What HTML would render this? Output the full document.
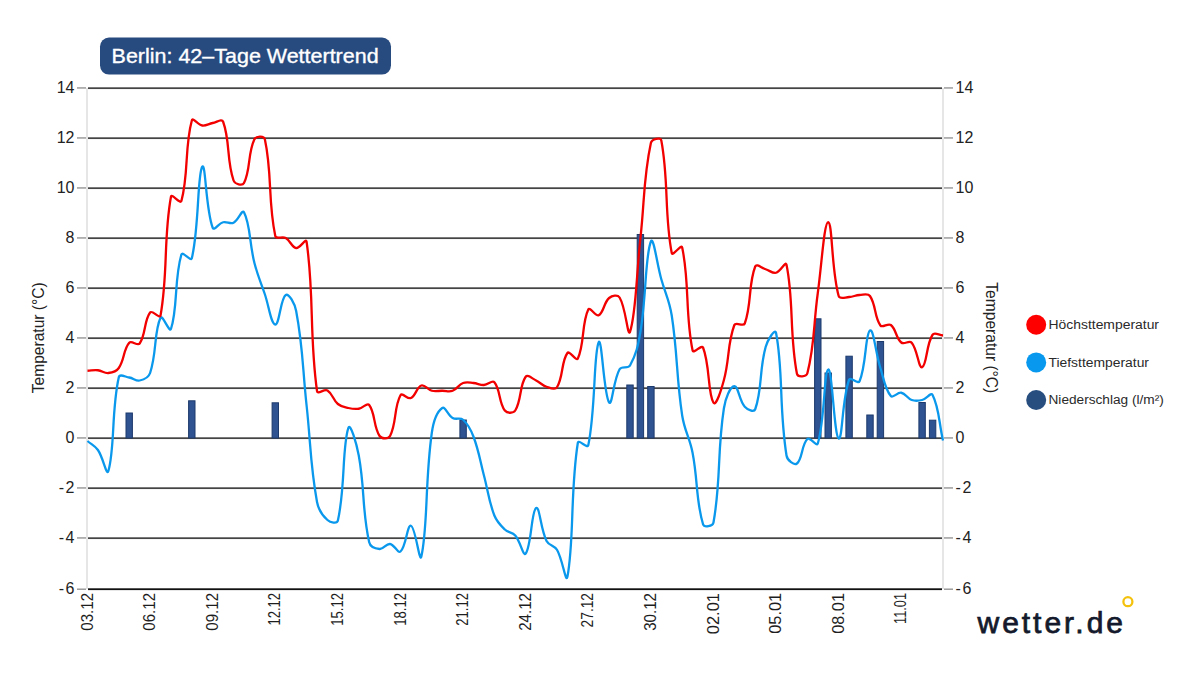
<!DOCTYPE html>
<html><head><meta charset="utf-8"><style>
html,body{margin:0;padding:0;background:#fff;width:1200px;height:675px;overflow:hidden}
svg{display:block}
text{font-family:"Liberation Sans",sans-serif}
</style></head><body>
<svg width="1200" height="675" viewBox="0 0 1200 675">
<rect width="1200" height="675" fill="#fff"/>
<rect x="86" y="88" width="2" height="501" fill="#e6e6e6"/>
<rect x="942" y="88" width="2" height="501" fill="#e6e6e6"/>
<rect x="88" y="87.30" width="854" height="1.75" fill="#444"/>
<rect x="77" y="87.25" width="9" height="1.4" fill="#959595"/>
<rect x="944" y="87.25" width="9" height="1.4" fill="#959595"/>
<rect x="88" y="137.30" width="854" height="1.75" fill="#444"/>
<rect x="77" y="137.25" width="9" height="1.4" fill="#959595"/>
<rect x="944" y="137.25" width="9" height="1.4" fill="#959595"/>
<rect x="88" y="187.30" width="854" height="1.75" fill="#444"/>
<rect x="77" y="187.25" width="9" height="1.4" fill="#959595"/>
<rect x="944" y="187.25" width="9" height="1.4" fill="#959595"/>
<rect x="88" y="237.30" width="854" height="1.75" fill="#444"/>
<rect x="77" y="237.25" width="9" height="1.4" fill="#959595"/>
<rect x="944" y="237.25" width="9" height="1.4" fill="#959595"/>
<rect x="88" y="287.30" width="854" height="1.75" fill="#444"/>
<rect x="77" y="287.25" width="9" height="1.4" fill="#959595"/>
<rect x="944" y="287.25" width="9" height="1.4" fill="#959595"/>
<rect x="88" y="337.30" width="854" height="1.75" fill="#444"/>
<rect x="77" y="337.25" width="9" height="1.4" fill="#959595"/>
<rect x="944" y="337.25" width="9" height="1.4" fill="#959595"/>
<rect x="88" y="387.30" width="854" height="1.75" fill="#444"/>
<rect x="77" y="387.25" width="9" height="1.4" fill="#959595"/>
<rect x="944" y="387.25" width="9" height="1.4" fill="#959595"/>
<rect x="88" y="437.30" width="854" height="1.75" fill="#444"/>
<rect x="77" y="437.25" width="9" height="1.4" fill="#959595"/>
<rect x="944" y="437.25" width="9" height="1.4" fill="#959595"/>
<rect x="88" y="487.30" width="854" height="1.75" fill="#444"/>
<rect x="77" y="487.25" width="9" height="1.4" fill="#959595"/>
<rect x="944" y="487.25" width="9" height="1.4" fill="#959595"/>
<rect x="88" y="537.30" width="854" height="1.75" fill="#444"/>
<rect x="77" y="537.25" width="9" height="1.4" fill="#959595"/>
<rect x="944" y="537.25" width="9" height="1.4" fill="#959595"/>
<rect x="88" y="588.3" width="854" height="1.8" fill="#111"/>
<rect x="77" y="588.5" width="9" height="1.4" fill="#959595"/>
<rect x="944" y="588.5" width="9" height="1.4" fill="#959595"/>
<text x="74.5" y="93.3" text-anchor="end" font-size="16" fill="#222">14</text>
<text x="955.5" y="93.3" font-size="16" fill="#222">14</text>
<text x="74.5" y="143.3" text-anchor="end" font-size="16" fill="#222">12</text>
<text x="955.5" y="143.3" font-size="16" fill="#222">12</text>
<text x="74.5" y="193.3" text-anchor="end" font-size="16" fill="#222">10</text>
<text x="955.5" y="193.3" font-size="16" fill="#222">10</text>
<text x="74.5" y="243.3" text-anchor="end" font-size="16" fill="#222">8</text>
<text x="955.5" y="243.3" font-size="16" fill="#222">8</text>
<text x="74.5" y="293.3" text-anchor="end" font-size="16" fill="#222">6</text>
<text x="955.5" y="293.3" font-size="16" fill="#222">6</text>
<text x="74.5" y="343.3" text-anchor="end" font-size="16" fill="#222">4</text>
<text x="955.5" y="343.3" font-size="16" fill="#222">4</text>
<text x="74.5" y="393.3" text-anchor="end" font-size="16" fill="#222">2</text>
<text x="955.5" y="393.3" font-size="16" fill="#222">2</text>
<text x="74.5" y="443.3" text-anchor="end" font-size="16" fill="#222">0</text>
<text x="955.5" y="443.3" font-size="16" fill="#222">0</text>
<text x="74.5" y="493.3" text-anchor="end" font-size="16" fill="#222">-<tspan dx="1.6">2</tspan></text>
<text x="955.5" y="493.3" font-size="16" fill="#222">-<tspan dx="1.6">2</tspan></text>
<text x="74.5" y="543.3" text-anchor="end" font-size="16" fill="#222">-<tspan dx="1.6">4</tspan></text>
<text x="955.5" y="543.3" font-size="16" fill="#222">-<tspan dx="1.6">4</tspan></text>
<text x="74.5" y="594.3" text-anchor="end" font-size="16" fill="#222">-<tspan dx="1.6">6</tspan></text>
<text x="955.5" y="594.3" font-size="16" fill="#222">-<tspan dx="1.6">6</tspan></text>
<rect x="126.0" y="413.0" width="6.4" height="25.0" fill="#2f5290" stroke="#1d3a6c" stroke-width="1"/>
<rect x="188.6" y="400.8" width="6.4" height="37.2" fill="#2f5290" stroke="#1d3a6c" stroke-width="1"/>
<rect x="272.1" y="402.8" width="6.4" height="35.2" fill="#2f5290" stroke="#1d3a6c" stroke-width="1"/>
<rect x="459.9" y="420.0" width="6.4" height="18.0" fill="#2f5290" stroke="#1d3a6c" stroke-width="1"/>
<rect x="626.8" y="385.0" width="6.4" height="53.0" fill="#2f5290" stroke="#1d3a6c" stroke-width="1"/>
<rect x="637.2" y="234.5" width="6.4" height="203.5" fill="#2f5290" stroke="#1d3a6c" stroke-width="1"/>
<rect x="647.7" y="386.5" width="6.4" height="51.5" fill="#2f5290" stroke="#1d3a6c" stroke-width="1"/>
<rect x="814.6" y="318.8" width="6.4" height="119.2" fill="#2f5290" stroke="#1d3a6c" stroke-width="1"/>
<rect x="825.0" y="373.0" width="6.4" height="65.0" fill="#2f5290" stroke="#1d3a6c" stroke-width="1"/>
<rect x="845.9" y="356.2" width="6.4" height="81.8" fill="#2f5290" stroke="#1d3a6c" stroke-width="1"/>
<rect x="866.8" y="415.0" width="6.4" height="23.0" fill="#2f5290" stroke="#1d3a6c" stroke-width="1"/>
<rect x="877.2" y="341.5" width="6.4" height="96.5" fill="#2f5290" stroke="#1d3a6c" stroke-width="1"/>
<rect x="918.9" y="402.5" width="6.4" height="35.5" fill="#2f5290" stroke="#1d3a6c" stroke-width="1"/>
<rect x="929.4" y="420.2" width="6.4" height="17.8" fill="#2f5290" stroke="#1d3a6c" stroke-width="1"/>
<path d="M87.50,441.00C91.67,444.60 94.84,445.56 97.93,450.00C103.19,457.56 106.70,476.79 108.37,471.00C115.05,447.69 111.28,410.92 118.80,377.25C119.63,373.52 125.14,376.86 129.23,377.50C133.49,378.16 135.84,381.32 139.66,380.50C144.19,379.52 148.55,377.67 150.10,373.00C156.89,352.57 153.97,331.58 160.53,317.75C162.32,313.98 169.55,333.29 170.96,329.00C177.90,307.99 174.12,279.17 181.40,254.50C182.47,250.87 190.93,262.02 191.83,258.25C199.28,226.92 197.27,174.05 202.26,166.75C205.62,161.85 205.68,209.10 212.70,227.75C214.03,231.30 218.70,223.31 223.13,222.25C227.05,221.31 230.11,224.40 233.56,222.75C238.45,220.40 242.14,208.67 243.99,212.25C250.49,224.77 249.32,242.95 254.43,263.00C257.67,275.75 260.63,281.77 264.86,294.25C268.97,306.37 271.07,324.35 275.29,324.50C279.42,324.65 280.54,298.35 285.73,295.00C288.89,292.95 294.76,303.61 296.16,311.00C303.11,347.81 302.46,367.70 306.59,405.50C310.81,444.10 310.15,464.28 317.02,502.00C318.50,510.08 321.90,515.07 327.46,520.00C330.25,522.47 337.05,524.21 337.89,520.50C345.39,487.41 341.98,447.76 348.32,428.00C350.33,421.76 356.65,443.99 358.76,455.50C365.00,489.69 361.88,509.51 369.19,542.25C370.23,546.91 375.30,548.64 379.62,549.00C383.65,549.34 386.10,543.53 390.05,544.00C394.45,544.53 397.85,553.81 400.49,551.50C406.19,546.51 407.07,524.83 410.92,525.75C415.42,526.83 419.62,564.20 421.35,556.50C427.97,527.10 424.94,481.75 431.79,433.00C433.28,422.35 436.78,411.91 442.22,408.00C445.12,405.91 447.83,415.29 452.65,418.00C456.18,419.99 460.19,417.15 463.09,419.75C468.54,424.65 470.75,429.35 473.52,436.75C479.09,451.65 479.84,459.98 483.95,475.50C488.19,491.48 488.52,500.31 494.38,515.50C496.86,521.91 499.88,524.76 504.82,529.50C508.22,532.76 512.19,531.98 515.25,535.50C520.54,541.58 523.11,556.89 525.68,553.50C531.46,545.89 531.32,510.87 536.12,508.00C539.67,505.87 540.56,529.02 546.55,541.00C548.91,545.72 554.31,545.18 556.98,549.75C562.66,559.48 565.94,584.33 567.41,576.75C574.28,541.53 570.12,491.46 577.85,442.75C578.46,438.86 587.50,449.02 588.28,445.25C595.84,408.82 593.47,353.00 598.71,342.25C601.81,335.90 603.83,395.62 609.15,402.50C612.18,406.42 613.25,380.48 619.58,369.25C621.59,365.68 628.02,369.08 630.01,365.50C636.36,354.08 638.11,345.64 640.45,331.75C646.45,296.04 645.05,256.17 650.88,241.50C653.39,235.17 657.06,264.17 661.31,279.25C665.41,293.77 669.47,300.63 671.74,315.50C677.81,355.13 676.16,375.85 682.18,415.50C684.51,430.85 689.68,437.74 692.61,453.00C698.03,481.24 695.77,500.01 703.04,524.25C704.11,527.81 712.77,526.42 713.48,522.50C721.12,480.02 717.02,453.21 723.91,408.25C725.37,398.71 730.05,386.56 734.34,386.25C738.40,385.96 739.08,400.48 744.77,406.75C747.43,409.68 753.99,412.72 755.21,409.25C762.34,388.82 759.10,370.89 765.64,347.00C767.45,340.39 775.04,327.60 776.07,333.00C783.38,371.00 778.97,408.34 786.51,455.50C787.31,460.54 794.18,465.68 796.94,463.50C802.53,459.08 801.52,444.61 807.37,439.00C809.87,436.61 816.70,447.17 817.80,443.50C825.05,419.37 823.92,370.53 828.24,369.50C832.27,368.53 834.17,436.29 838.67,438.50C842.52,440.39 842.01,399.21 849.10,379.75C850.36,376.31 858.13,384.58 859.54,381.25C866.47,364.88 865.20,333.53 869.97,330.50C873.55,328.23 875.68,353.18 880.40,368.00C884.03,379.38 884.72,388.75 890.84,396.00C893.07,398.65 897.41,392.01 901.27,392.75C905.76,393.61 907.12,398.41 911.70,400.00C915.46,401.31 918.18,400.95 922.13,400.00C926.52,398.95 930.91,391.78 932.57,395.00C939.26,407.98 938.83,422.30 943.00,440.50" fill="none" stroke="#0a98ec" stroke-width="2.3" stroke-linejoin="round"/>
<path d="M87.50,370.75C91.67,370.55 93.83,369.81 97.93,370.25C102.17,370.71 104.34,373.43 108.37,373.00C112.68,372.53 116.32,371.60 118.80,368.00C124.66,359.50 123.20,349.84 129.23,342.75C131.54,340.04 137.64,346.43 139.66,343.50C145.99,334.33 143.83,320.91 150.10,312.50C152.18,309.71 159.83,319.36 160.53,315.50C168.18,273.06 163.34,238.60 170.96,196.75C171.68,192.80 180.38,204.72 181.40,201.00C188.73,174.22 184.52,146.93 191.83,120.50C192.87,116.73 197.93,124.98 202.26,125.50C206.28,125.98 208.48,123.76 212.70,123.00C216.82,122.26 221.88,118.31 223.13,121.75C230.22,141.31 226.49,159.73 233.56,180.50C234.83,184.23 242.39,186.18 243.99,183.00C250.73,169.68 247.65,153.45 254.43,139.25C256.00,135.95 264.05,135.50 264.86,139.25C272.40,174.20 267.77,200.39 275.29,236.00C276.11,239.89 282.19,235.97 285.73,238.00C290.54,240.77 291.63,247.19 296.16,248.00C299.97,248.69 305.96,237.45 306.59,241.75C314.31,294.65 309.22,335.38 317.02,391.00C317.57,394.88 324.29,388.53 327.46,390.50C332.63,393.73 332.85,399.77 337.89,404.00C341.19,406.77 344.01,407.02 348.32,408.00C352.36,408.92 354.70,409.33 358.76,408.75C363.05,408.13 367.08,402.24 369.19,405.00C375.42,413.14 373.29,426.60 379.62,436.00C381.64,439.00 388.40,439.24 390.05,436.00C396.74,422.94 393.85,407.35 400.49,395.25C402.19,392.15 407.59,399.55 410.92,398.00C415.94,395.65 416.49,387.19 421.35,385.50C424.84,384.29 427.38,389.64 431.79,390.75C435.72,391.74 438.05,390.75 442.22,390.75C446.39,390.75 448.94,392.13 452.65,390.75C457.28,389.03 458.46,384.72 463.09,383.00C466.80,381.62 469.38,382.60 473.52,383.00C477.73,383.40 479.81,385.15 483.95,385.00C488.16,384.85 492.18,379.56 494.38,382.25C500.53,389.76 498.62,402.11 504.82,410.50C506.96,413.41 513.35,413.58 515.25,410.50C521.69,400.08 519.33,385.88 525.68,376.75C527.68,373.88 532.14,378.59 536.12,380.50C540.48,382.59 542.06,385.30 546.55,386.75C550.41,388.00 555.10,390.30 556.98,387.25C563.44,376.80 561.14,361.65 567.41,353.00C569.48,350.15 576.26,361.82 577.85,358.50C584.60,344.42 581.54,323.48 588.28,309.50C589.88,306.18 595.61,316.96 598.71,315.25C603.96,312.36 603.65,302.68 609.15,298.00C611.99,295.58 617.69,294.45 619.58,297.50C626.04,307.95 627.72,338.30 630.01,331.75C636.06,314.50 636.30,275.50 640.45,238.00C644.65,200.00 643.37,178.06 650.88,143.00C651.72,139.06 660.59,136.68 661.31,140.50C668.93,180.68 664.19,214.25 671.74,253.00C672.53,257.05 681.32,243.51 682.18,247.50C689.67,282.51 685.06,314.30 692.61,350.50C693.40,354.30 701.69,344.12 703.04,347.50C710.04,365.02 707.70,393.75 713.48,402.75C716.05,406.75 721.33,389.61 723.91,380.00C729.68,358.51 727.32,344.02 734.34,325.00C735.66,321.42 743.49,327.10 744.77,323.50C751.84,303.70 748.17,284.79 755.21,266.50C756.52,263.09 761.51,268.01 765.64,269.25C769.85,270.51 772.27,273.57 776.07,272.75C780.62,271.77 785.61,260.42 786.51,264.75C793.96,300.82 789.32,334.13 796.94,373.75C797.67,377.53 806.42,376.94 807.37,373.25C814.76,344.64 813.37,325.06 817.80,293.00C821.72,264.66 824.15,221.66 828.24,222.25C832.50,222.86 831.35,269.79 838.67,296.00C839.70,299.69 844.96,297.20 849.10,297.00C853.30,296.80 855.34,295.20 859.54,295.00C863.68,294.80 867.88,292.94 869.97,296.00C876.22,305.14 874.14,316.80 880.40,325.50C882.49,328.40 888.01,322.70 890.84,325.00C896.35,329.50 895.75,337.80 901.27,342.50C904.10,344.90 909.35,339.96 911.70,342.75C917.70,349.86 918.48,368.65 922.13,367.25C926.82,365.45 926.18,344.47 932.57,334.75C934.52,331.77 938.83,335.20 943.00,335.50" fill="none" stroke="#f20000" stroke-width="2.3" stroke-linejoin="round"/>
<text transform="translate(92.6,593.0) rotate(-90)" text-anchor="end" font-size="15.6" textLength="37.7" lengthAdjust="spacingAndGlyphs" fill="#1e1e1e">03.12</text>
<text transform="translate(155.2,593.0) rotate(-90)" text-anchor="end" font-size="15.6" textLength="37.7" lengthAdjust="spacingAndGlyphs" fill="#1e1e1e">06.12</text>
<text transform="translate(217.8,593.0) rotate(-90)" text-anchor="end" font-size="15.6" textLength="37.7" lengthAdjust="spacingAndGlyphs" fill="#1e1e1e">09.12</text>
<text transform="translate(280.4,593.0) rotate(-90)" text-anchor="end" font-size="15.6" textLength="32.4" lengthAdjust="spacingAndGlyphs" fill="#1e1e1e">12.12</text>
<text transform="translate(343.0,593.0) rotate(-90)" text-anchor="end" font-size="15.6" textLength="32.7" lengthAdjust="spacingAndGlyphs" fill="#1e1e1e">15.12</text>
<text transform="translate(405.6,593.0) rotate(-90)" text-anchor="end" font-size="15.6" textLength="32.7" lengthAdjust="spacingAndGlyphs" fill="#1e1e1e">18.12</text>
<text transform="translate(468.2,593.0) rotate(-90)" text-anchor="end" font-size="15.6" textLength="32.7" lengthAdjust="spacingAndGlyphs" fill="#1e1e1e">21.12</text>
<text transform="translate(530.8,593.0) rotate(-90)" text-anchor="end" font-size="15.6" textLength="37.8" lengthAdjust="spacingAndGlyphs" fill="#1e1e1e">24.12</text>
<text transform="translate(593.4,593.0) rotate(-90)" text-anchor="end" font-size="15.6" textLength="34.4" lengthAdjust="spacingAndGlyphs" fill="#1e1e1e">27.12</text>
<text transform="translate(656.0,593.0) rotate(-90)" text-anchor="end" font-size="15.6" textLength="37.8" lengthAdjust="spacingAndGlyphs" fill="#1e1e1e">30.12</text>
<text transform="translate(718.6,593.0) rotate(-90)" text-anchor="end" font-size="15.6" textLength="41.2" lengthAdjust="spacingAndGlyphs" fill="#1e1e1e">02.01</text>
<text transform="translate(781.2,593.0) rotate(-90)" text-anchor="end" font-size="15.6" textLength="40.7" lengthAdjust="spacingAndGlyphs" fill="#1e1e1e">05.01</text>
<text transform="translate(843.8,593.0) rotate(-90)" text-anchor="end" font-size="15.6" textLength="40.8" lengthAdjust="spacingAndGlyphs" fill="#1e1e1e">08.01</text>
<text transform="translate(906.4,593.0) rotate(-90)" text-anchor="end" font-size="15.6" textLength="30.9" lengthAdjust="spacingAndGlyphs" fill="#1e1e1e">11.01</text>
<text transform="translate(44.1,337.8) rotate(-90)" text-anchor="middle" font-size="16.3" textLength="111" lengthAdjust="spacingAndGlyphs" fill="#222">Temperatur (°C)</text>
<text transform="translate(986.2,337.8) rotate(90)" text-anchor="middle" font-size="16.3" textLength="111" lengthAdjust="spacingAndGlyphs" fill="#222">Temperatur (°C)</text>
<circle cx="1036.2" cy="324.8" r="10" fill="#ff0000"/>
<text x="1048.5" y="329.1" font-size="12.5" textLength="110.5" lengthAdjust="spacingAndGlyphs" fill="#2a2a2a">Höchsttemperatur</text>
<circle cx="1036.2" cy="362.4" r="10" fill="#0899ef"/>
<text x="1048.5" y="366.7" font-size="12.5" textLength="100.5" lengthAdjust="spacingAndGlyphs" fill="#2a2a2a">Tiefsttemperatur</text>
<circle cx="1036.2" cy="400.0" r="10" fill="#284e7f"/>
<text x="1048.5" y="404.3" font-size="12.5" textLength="115.3" lengthAdjust="spacingAndGlyphs" fill="#2a2a2a">Niederschlag (l/m²)</text>
<rect x="100" y="37.6" width="291" height="37" rx="9" fill="#284b7f"/>
<text x="111.6" y="62.5" font-size="20.4" textLength="267" lengthAdjust="spacingAndGlyphs" fill="#fff" stroke="#fff" stroke-width="0.35">Berlin: 42–Tage Wettertrend</text>
<text x="977.5" y="632.5" font-size="30" textLength="145.5" lengthAdjust="spacing" fill="#141a2c" stroke="#141a2c" stroke-width="0.75">wetter.de</text>
<circle cx="1127.9" cy="601.7" r="4.5" fill="none" stroke="#f4c20d" stroke-width="2.3"/>
</svg>
</body></html>
